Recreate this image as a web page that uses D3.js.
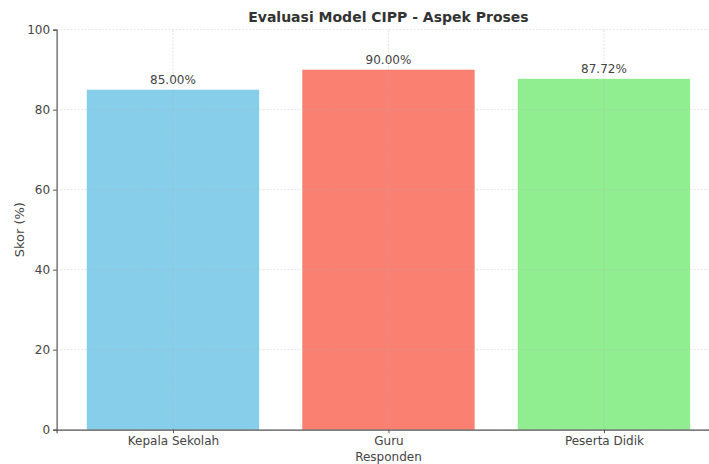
<!DOCTYPE html>
<html>
<head>
<meta charset="utf-8">
<script src="https://cdn.jsdelivr.net/npm/d3@7"></script>
<style>
  body { margin: 0; background: #fff; }
  svg { display: block; font-family: "DejaVu Sans", sans-serif; }
</style>
</head>
<body>
<svg width="709" height="464"></svg>
<script>
var categories = ["Kepala Sekolah", "Guru", "Peserta Didik"];
var scores = [85.00, 90.00, 87.72];
var colors = ["#87CEEB", "#FA8072", "#90EE90"];
var yTicks = [0, 20, 40, 60, 80, 100];

var svg = d3.select("svg"),
	margin = {top: 29.7, left: 56.6},
	plotW = 663.7,
	plotH = 400,
	g = svg.append("g").attr("transform", "translate(" + margin.left + "," + margin.top + ")");

var x = d3.scaleLinear()
	.domain([-0.54, categories.length - 0.46])
	.range([0, plotW]);
var y = d3.scaleLinear()
	.domain([0, 100])
	.range([plotH, 0]);

// bars
g.selectAll("rect.bar")
	.data(scores)
	.enter().append("rect")
	.attr("class", "bar")
	.attr("x", function(d, i) { return x(i - 0.4); })
	.attr("width", x(0.4) - x(-0.4))
	.attr("y", function(d) { return y(d); })
	.attr("height", function(d) { return y(0) - y(d); })
	.attr("fill", function(d, i) { return colors[i]; });

// grid on top of bars
var grid = g.append("g").attr("class", "grid");
grid.selectAll("line.h")
	.data(yTicks)
	.enter().append("line")
	.attr("x1", 0).attr("x2", plotW)
	.attr("y1", function(d) { return y(d); })
	.attr("y2", function(d) { return y(d); })
	.attr("stroke", "#b0b0b0").attr("stroke-opacity", 0.45)
	.attr("stroke-dasharray", "2,1.5").attr("stroke-width", 0.8);
grid.selectAll("line.v")
	.data(categories)
	.enter().append("line")
	.attr("x1", function(d, i) { return x(i); })
	.attr("x2", function(d, i) { return x(i); })
	.attr("y1", 0).attr("y2", plotH)
	.attr("stroke", "#b0b0b0").attr("stroke-opacity", 0.45)
	.attr("stroke-dasharray", "2,1.5").attr("stroke-width", 0.8);

// axes
var yAxis = g.append("g")
	.call(d3.axisLeft(y).tickValues(yTicks).tickSize(3.5).tickPadding(3));
var xAxis = g.append("g")
	.attr("transform", "translate(0," + plotH + ")")
	.call(d3.axisBottom(x).tickValues(d3.range(categories.length))
		.tickFormat(function(i) { return categories[i]; })
		.tickSize(3.5).tickPadding(3));
[yAxis, xAxis].forEach(function(a) {
	a.select(".domain").attr("stroke", "#555").attr("stroke-width", 1.2);
	a.selectAll(".tick line").attr("stroke", "#555");
	a.selectAll("text").attr("fill", "#444").style("font-size", "12px")
		.style("font-family", "DejaVu Sans");
});

// value labels
g.selectAll("text.val")
	.data(scores)
	.enter().append("text")
	.attr("class", "val")
	.attr("x", function(d, i) { return x(i); })
	.attr("y", function(d) { return y(d) - 6; })
	.attr("text-anchor", "middle")
	.attr("fill", "#444")
	.style("font-size", "12px")
	.text(function(d) { return d.toFixed(2) + "%"; });

// title and axis labels
svg.append("text")
	.attr("x", margin.left + plotW / 2)
	.attr("y", 22)
	.attr("text-anchor", "middle")
	.attr("fill", "#333")
	.style("font-size", "14px")
	.style("font-weight", "bold")
	.text("Evaluasi Model CIPP - Aspek Proses");
svg.append("text")
	.attr("x", margin.left + plotW / 2)
	.attr("y", 461)
	.attr("text-anchor", "middle")
	.attr("fill", "#444")
	.style("font-size", "12px")
	.text("Responden");
svg.append("text")
	.attr("transform", "translate(24," + (margin.top + plotH / 2) + ") rotate(-90)")
	.attr("text-anchor", "middle")
	.attr("fill", "#444")
	.style("font-size", "13px")
	.text("Skor (%)");
</script>
</body>
</html>
